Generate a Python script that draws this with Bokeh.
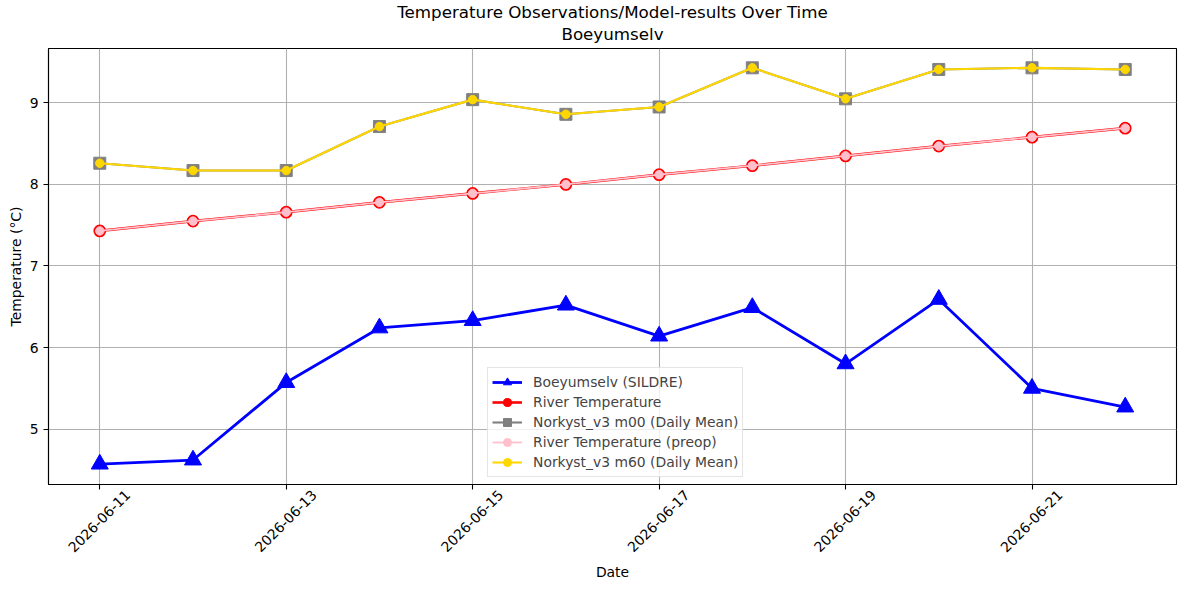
from datetime import datetime, timedelta
from bokeh.plotting import figure
from bokeh.models import (Range1d, FixedTicker, Legend, LegendItem, Title, DatetimeAxis,
                          DatetimeTickFormatter)
from bokeh.embed import file_html
from bokeh.resources import INLINE

dates = ["2026-06-11", "2026-06-12", "2026-06-13", "2026-06-14", "2026-06-15", "2026-06-16",
         "2026-06-17", "2026-06-18", "2026-06-19", "2026-06-20", "2026-06-21", "2026-06-22"]
sildre = [4.57, 4.62, 5.57, 6.24, 6.33, 6.52, 6.14, 6.49, 5.80, 6.59, 5.50, 5.27]
river = [7.43, 7.55, 7.66, 7.78, 7.89, 8.00, 8.12, 8.23, 8.35, 8.47, 8.58, 8.69]
river_preop = [7.43, 7.55, 7.66, 7.78, 7.89, 8.00, 8.12, 8.23, 8.35, 8.47, 8.58, 8.69]
m00 = [8.26, 8.17, 8.17, 8.71, 9.04, 8.86, 8.95, 9.43, 9.05, 9.41, 9.43, 9.41]
m60 = [8.26, 8.17, 8.17, 8.71, 9.04, 8.86, 8.95, 9.43, 9.05, 9.41, 9.43, 9.41]
tick_dates = ["2026-06-11", "2026-06-13", "2026-06-15", "2026-06-17", "2026-06-19", "2026-06-21"]
y_ticks = [5, 6, 7, 8, 9]

FONT = "DejaVu Sans"
FS = "13.9px"
x = [datetime.strptime(d, "%Y-%m-%d") for d in dates]
epoch = datetime(1970, 1, 1)
tick_ms = [(datetime.strptime(d, "%Y-%m-%d") - epoch).total_seconds() * 1000 for d in tick_dates]

x_start = x[0] - timedelta(days=0.55)
x_end = x[-1] + timedelta(days=0.55)
p = figure(width=1189, height=590, x_axis_type="datetime", output_backend="svg",
           toolbar_location=None,
           x_range=Range1d(x_start, x_end),
           y_range=Range1d(4.32, 9.667),
           min_border_left=48, min_border_right=13, min_border_top=48, min_border_bottom=106)

p.background_fill_color = "white"
p.border_fill_color = "white"
p.outline_line_color = "black"
p.outline_line_width = 1.1

p.title.text = "Temperature Observations/Model-results Over Time"
p.title.align = "center"
p.title.text_font = FONT
p.title.text_font_size = "16.7px"
p.title.text_font_style = "normal"
p.title.text_color = "black"
p.title.standoff = -11
p.add_layout(Title(text="Boeyumselv", align="center",
                   text_font=FONT, text_font_size="16.7px", text_font_style="normal",
                   text_color="black", standoff=10), "above")

# main x axis: tick marks only (labels drawn by the shifted axis below)
p.xaxis.ticker = FixedTicker(ticks=tick_ms)
p.xaxis.major_label_text_color = None
p.xaxis.major_label_text_font_size = "1px"
p.xaxis.major_label_standoff = 0
p.yaxis.ticker = FixedTicker(ticks=y_ticks)

for ax in (p.xaxis, p.yaxis):
    ax.axis_line_color = "black"
    ax.axis_line_width = 1.1
    ax.major_tick_out = 5
    ax.major_tick_in = 0
    ax.major_tick_line_color = "black"
    ax.major_tick_line_width = 1.1
    ax.minor_tick_line_color = None
    ax.major_label_text_font = FONT
    ax.axis_label_text_font = FONT
    ax.axis_label_text_font_size = FS
    ax.axis_label_text_font_style = "normal"
    ax.axis_label_text_color = "black"

p.yaxis.major_label_text_font_size = FS
p.yaxis.major_label_text_color = "black"
p.yaxis.major_label_standoff = 5
p.yaxis.axis_label = "Temperature (°C)"
p.yaxis.axis_label_standoff = 3

# label axis, shifted so that the rotated labels are centred under the ticks
shift = timedelta(days=0.30)
p.extra_x_ranges = {"labels": Range1d(x_start - shift, x_end - shift)}
fmt = "%Y-%m-%d"
lab_axis = DatetimeAxis(x_range_name="labels", ticker=FixedTicker(ticks=tick_ms),
                        formatter=DatetimeTickFormatter(days=fmt, months=fmt, years=fmt, hours=fmt,
                                                        hourmin=fmt, minutes=fmt, minsec=fmt,
                                                        seconds=fmt, milliseconds=fmt,
                                                        microseconds=fmt),
                        major_label_orientation=0.785398,
                        axis_line_color=None, major_tick_line_color=None, minor_tick_line_color=None,
                        major_tick_out=0, major_tick_in=0, major_label_standoff=3,
                        major_label_text_font=FONT, major_label_text_font_size=FS,
                        major_label_text_color="black",
                        axis_label="Date", axis_label_standoff=4, axis_label_text_font=FONT,
                        axis_label_text_font_size=FS, axis_label_text_font_style="normal",
                        axis_label_text_color="black")
p.add_layout(lab_axis, "below")

p.xgrid.ticker = FixedTicker(ticks=tick_ms)
p.ygrid.ticker = FixedTicker(ticks=y_ticks)
for g in (p.xgrid, p.ygrid):
    g.grid_line_color = "#b0b0b0"
    g.grid_line_width = 1.1

# Boeyumselv (SILDRE)
l1 = p.line(x, sildre, line_color="blue", line_width=2.8)
s1 = p.scatter(x, sildre, marker="triangle", size=17, fill_color="blue", line_color="blue", line_width=1)
# River Temperature
l2 = p.line(x, river, line_color="red", line_width=2.6)
s2 = p.scatter(x, river, marker="circle", size=11.5, fill_color="red", line_color="red", line_width=1.2)
# Norkyst m00
l3 = p.line(x, m00, line_color="grey", line_width=2.1)
s3 = p.scatter(x, m00, marker="square", size=12, fill_color="grey", line_color="grey", line_width=1)
# River preop
l4 = p.line(x, river_preop, line_color="pink", line_width=1.8)
s4 = p.scatter(x, river_preop, marker="circle", size=8.5, fill_color="pink", line_color="pink", line_width=1)
# Norkyst m60
l5 = p.line(x, m60, line_color="gold", line_width=2.1)
s5 = p.scatter(x, m60, marker="circle", size=8.5, fill_color="gold", line_color="gold", line_width=1)

legend = Legend(items=[
    LegendItem(label="Boeyumselv (SILDRE)", renderers=[l1, s1]),
    LegendItem(label="River Temperature", renderers=[l2, s2]),
    LegendItem(label="Norkyst_v3 m00 (Daily Mean)", renderers=[l3, s3]),
    LegendItem(label="River Temperature (preop)", renderers=[l4, s4]),
    LegendItem(label="Norkyst_v3 m60 (Daily Mean)", renderers=[l5, s5]),
], location=(439, 7))
legend.glyph_width = 30
legend.glyph_height = 20
legend.label_height = 20
legend.spacing = 0
legend.padding = 4
legend.margin = 0
legend.label_standoff = 11
legend.label_text_font = FONT
legend.label_text_font_size = FS
legend.border_line_color = "#cccccc"
legend.border_line_width = 1
legend.background_fill_alpha = 0.8
p.add_layout(legend, "center")

open("out.html", "w").write(file_html(p, INLINE))
